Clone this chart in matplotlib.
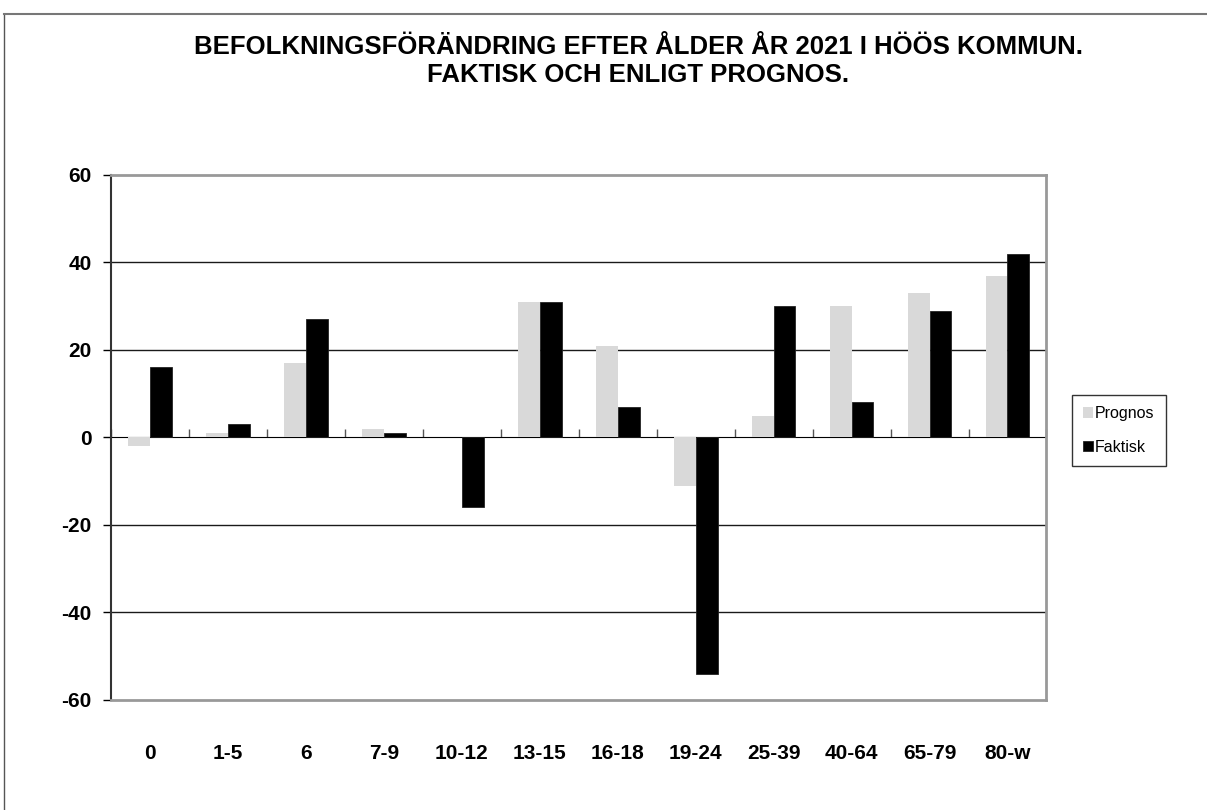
import matplotlib
matplotlib.use("Agg")
import matplotlib.pyplot as plt
from matplotlib.lines import Line2D
import numpy as np

plt.rcParams['font.family'] = ['Liberation Sans', 'DejaVu Sans']

# Age groups and population change
categories = ["0", "1-5", "6", "7-9", "10-12", "13-15", "16-18", "19-24",
              "25-39", "40-64", "65-79", "80-w"]
prognos = [-2, 1, 17, 2, 0, 31, 21, -11, 5, 30, 33, 37]
faktisk = [16, 3, 27, 1, -16, 31, 7, -54, 30, 8, 29, 42]
y_ticks = [-60, -40, -20, 0, 20, 40, 60]

fig = plt.figure(figsize=(12.07, 8.10), dpi=100)
ax = fig.add_axes([0.092, 0.136, 0.775, 0.648])

x = np.arange(len(categories))
w = 0.28
ax.bar(x - w / 2, prognos, w, color="#d9d9d9", label="Prognos", zorder=3)
ax.bar(x + w / 2, faktisk, w, color="black", edgecolor="#222222",
       linewidth=0.6, label="Faktisk", zorder=3)

ax.set_xlim(-0.5, len(categories) - 0.5)
ax.set_ylim(-60, 60)
ax.set_yticks(y_ticks)
ax.set_yticklabels([str(v) for v in y_ticks], fontsize=15, fontweight="bold")
ax.tick_params(axis="y", direction="out", length=6, width=1, pad=8)
ax.set_xticks(x)
ax.set_xticklabels(categories, fontsize=15, fontweight="bold")
ax.tick_params(axis="x", length=0, pad=32)

# grid lines
for v in [-40, -20, 20, 40]:
    ax.axhline(v, color="#1a1a1a", linewidth=1, zorder=1)

# category axis at zero with tick marks between groups
sec = ax.secondary_xaxis(0.5)
sec.set_xticks(np.arange(-0.5, len(categories), 1))
sec.set_xticklabels([])
sec.tick_params(axis="x", direction="out", length=6, width=1, color="#555555")
sec.spines["bottom"].set_color("#777777")
sec.spines["bottom"].set_linewidth(1.2)

ax.spines["left"].set_color("#333333")
ax.spines["left"].set_linewidth(1.5)
for s in ["top", "right", "bottom"]:
    ax.spines[s].set_color("#999999")
    ax.spines[s].set_linewidth(2)

leg = fig.legend(loc="upper left", bbox_to_anchor=(1072 / 1207, 1 - 395 / 810),
                 frameon=True, fancybox=False, fontsize=11.5,
                 handlelength=0.6, handleheight=0.6, handletextpad=0.15,
                 labelspacing=1.15, borderpad=0.7, borderaxespad=0)
leg.get_frame().set_edgecolor("black")
leg.get_frame().set_linewidth(1)

fig.text(638 / 1207, 1 - 47 / 810,
         "BEFOLKNINGSFÖRÄNDRING EFTER ÅLDER ÅR 2021 I HÖÖS KOMMUN.",
         ha="center", va="center", fontsize=18.5, fontweight="bold")
fig.text(638 / 1207, 1 - 75 / 810, "FAKTISK OCH ENLIGT PROGNOS.",
         ha="center", va="center", fontsize=18.5, fontweight="bold")

# outer chart frame
fig.add_artist(Line2D([4 / 1207, 4 / 1207], [0, 1 - 14 / 810],
                      transform=fig.transFigure, color="#555555", linewidth=1))
fig.add_artist(Line2D([4 / 1207, 1], [1 - 14 / 810, 1 - 14 / 810],
                      transform=fig.transFigure, color="#777777", linewidth=1.5))

fig.savefig("out.png", dpi=100)
